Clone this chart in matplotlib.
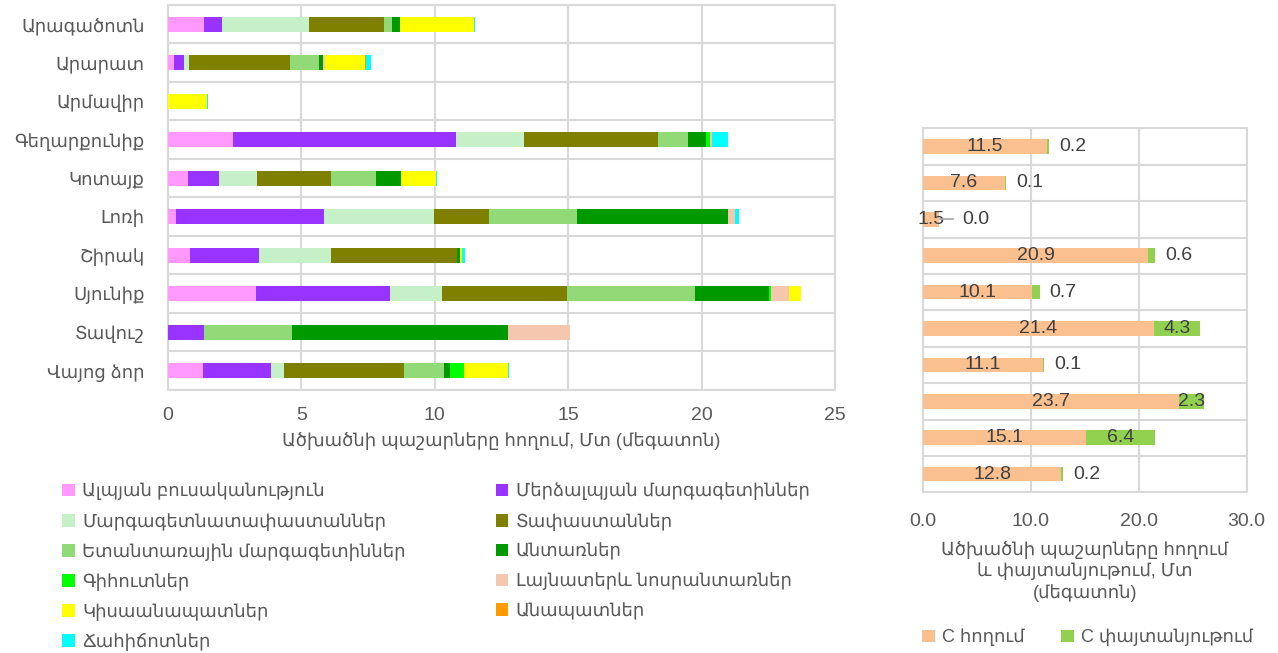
import numpy as np
import matplotlib
matplotlib.use("Agg")
import matplotlib.pyplot as plt
from matplotlib.patches import Patch

plt.rcParams['font.family'] = ['Liberation Sans', 'DejaVu Sans']

regions = ["Արագածոտն", "Արարատ", "Արմավիր", "Գեղարքունիք", "Կոտայք",
           "Լոռի", "Շիրակ", "Սյունիք", "Տավուշ", "Վայոց ձոր"]

series_names = ["Ալպյան բուսականություն", "Մերձալպյան մարգագետիններ",
                "Մարգագետնատափաստաններ", "Տափաստաններ",
                "Ետանտառային մարգագետիններ", "Անտառներ",
                "Գիհուտներ", "Լայնատերև նոսրանտառներ",
                "Կիսաանապատներ", "Անապատներ", "Ճահիճոտներ"]
series_colors = ["#FF99FF", "#9933FF", "#C6F0C8", "#808000", "#92D978",
                 "#009900", "#00FF00", "#F5C7AE", "#FFFF00", "#FF9900", "#00FFFF"]

# carbon in soil per vegetation type, Mt (one value per region)
alpine      = [1.35, 0.22, 0.00, 2.44, 0.74, 0.31, 0.84, 3.28, 0.00, 1.31]
subalpine   = [0.68, 0.38, 0.00, 8.37, 1.16, 5.52, 2.56, 5.05, 1.35, 2.55]
meadow_st   = [3.25, 0.20, 0.00, 2.54, 1.43, 4.14, 2.69, 1.94, 0.00, 0.49]
steppe      = [2.82, 3.77, 0.00, 5.00, 2.76, 2.07, 4.75, 4.69, 0.00, 4.48]
postforest  = [0.30, 1.08, 0.00, 1.14, 1.70, 3.27, 0.00, 4.80, 3.29, 1.50]
forest      = [0.29, 0.15, 0.00, 0.68, 0.95, 5.69, 0.09, 2.78, 8.09, 0.23]
juniper     = [0.00, 0.00, 0.00, 0.14, 0.00, 0.00, 0.00, 0.06, 0.00, 0.55]
broadleaf   = [0.00, 0.07, 0.00, 0.06, 0.00, 0.24, 0.00, 0.67, 2.34, 0.00]
semidesert  = [2.78, 1.51, 1.47, 0.00, 1.30, 0.00, 0.08, 0.45, 0.00, 1.65]
desert      = [0.00, 0.05, 0.00, 0.00, 0.00, 0.00, 0.00, 0.00, 0.00, 0.00]
wetland     = [0.03, 0.17, 0.03, 0.60, 0.04, 0.17, 0.12, 0.02, 0.00, 0.02]

c_soil = [11.5, 7.6, 1.5, 20.9, 10.1, 21.4, 11.1, 23.7, 15.1, 12.8]
c_wood = [0.2, 0.1, 0.0, 0.6, 0.7, 4.3, 0.1, 2.3, 6.4, 0.2]

series = [alpine, subalpine, meadow_st, steppe, postforest, forest,
          juniper, broadleaf, semidesert, desert, wetland]

TXT = "#595959"
GRID = "#D9D9D9"
FS = 13
FS2 = 14

fig = plt.figure(figsize=(12.78, 6.53), dpi=100)

# ---- left chart: stacked bars by vegetation type
ax = fig.add_axes([0.1315, 0.4028, 0.5219, 0.5896])
y = np.arange(len(regions))
left = np.zeros(len(regions))
handles = []
for name, vals, col in zip(series_names, series, series_colors):
    v = np.array(vals)
    ax.barh(y, v, left=left, height=0.4, color=col, edgecolor="none", zorder=3)
    left += v
    handles.append(Patch(facecolor=col, edgecolor="none", label=name))

ax.set_xlim(0, 25)
ax.set_ylim(9.5, -0.5)
ax.set_xticks([0, 5, 10, 15, 20, 25])
ax.set_yticks(y)
ax.set_yticklabels(regions)
ax.set_yticks(np.arange(-0.5, 10, 1), minor=True)
ax.grid(axis="x", color=GRID, lw=1.5, zorder=0)
ax.grid(axis="y", which="minor", color=GRID, lw=1.5, zorder=0)
ax.tick_params(axis="both", which="both", length=0, colors=TXT, labelsize=FS)
ax.tick_params(axis="x", pad=12, labelsize=FS2)
ax.tick_params(axis="y", pad=17)
for s in ax.spines.values():
    s.set_color(GRID)
    s.set_linewidth(1.5)
ax.set_xlabel("Ածխածնի պաշարները հողում, Մտ (մեգատոն)", color=TXT,
              fontsize=FS, labelpad=6)

order = [0, 2, 4, 6, 8, 10, 1, 3, 5, 7, 9]
fig.legend([handles[i] for i in order], [series_names[i] for i in order],
           ncol=2, loc="upper left", bbox_to_anchor=(0.043, 0.272),
           frameon=False, fontsize=FS, labelcolor=TXT, handlelength=0.7,
           handleheight=0.7, handletextpad=0.4, columnspacing=5.0,
           labelspacing=0.68, borderaxespad=0)

# ---- right chart: soil vs wood
ax2 = fig.add_axes([0.7222, 0.2461, 0.2533, 0.5574])
soil_col = "#FAC090"
wood_col = "#92D050"
ax2.barh(y, c_soil, height=0.4, color=soil_col, zorder=3)
ax2.barh(y, c_wood, left=c_soil, height=0.4, color=wood_col, zorder=3)
for i in range(len(regions)):
    ax2.text(c_soil[i] / 2, i, f"{c_soil[i]:.1f}", ha="center", va="center",
             color="#404040", fontsize=FS2, zorder=4)
    if c_wood[i] >= 2:
        ax2.text(c_soil[i] + c_wood[i] / 2, i, f"{c_wood[i]:.1f}", ha="center",
                 va="center", color="#404040", fontsize=FS2, zorder=4)
    elif c_wood[i] > 0:
        ax2.text(c_soil[i] + c_wood[i] + 2.2, i, f"{c_wood[i]:.1f}", ha="center",
                 va="center", color="#404040", fontsize=FS2, zorder=4)
    else:
        ax2.plot([c_soil[i] + 0.1, c_soil[i] + 1.3], [i, i], color="#A6A6A6",
                 lw=1.2, zorder=4)
        ax2.text(c_soil[i] + 3.4, i, f"{c_wood[i]:.1f}", ha="center",
                 va="center", color="#404040", fontsize=FS2, zorder=4)

ax2.set_xlim(0, 30)
ax2.set_ylim(9.5, -0.5)
ax2.set_xticks([0, 10, 20, 30])
ax2.set_xticklabels([f"{t:.1f}" for t in [0, 10, 20, 30]])
ax2.set_yticks([])
ax2.set_yticks(np.arange(-0.5, 10, 1), minor=True)
ax2.grid(axis="x", color=GRID, lw=1.5, zorder=0)
ax2.grid(axis="y", which="minor", color=GRID, lw=1.5, zorder=0)
ax2.tick_params(axis="both", which="both", length=0, colors=TXT, labelsize=FS2)
ax2.tick_params(axis="x", pad=15)
for s in ax2.spines.values():
    s.set_color(GRID)
    s.set_linewidth(1.5)
ax2.set_xlabel("Ածխածնի պաշարները հողում\nև փայտանյութում, Մտ\n(մեգատոն)",
               color=TXT, fontsize=FS, labelpad=8, linespacing=1.25)
fig.legend([Patch(facecolor=soil_col), Patch(facecolor=wood_col)],
           ["C հողում", "C փայտանյութում"], ncol=2, loc="center",
           bbox_to_anchor=(0.851, 0.024), frameon=False, fontsize=FS,
           labelcolor=TXT, handlelength=0.7, handleheight=0.7,
           handletextpad=0.4, columnspacing=2.0, borderaxespad=0)

fig.savefig("out.png", dpi=100)
